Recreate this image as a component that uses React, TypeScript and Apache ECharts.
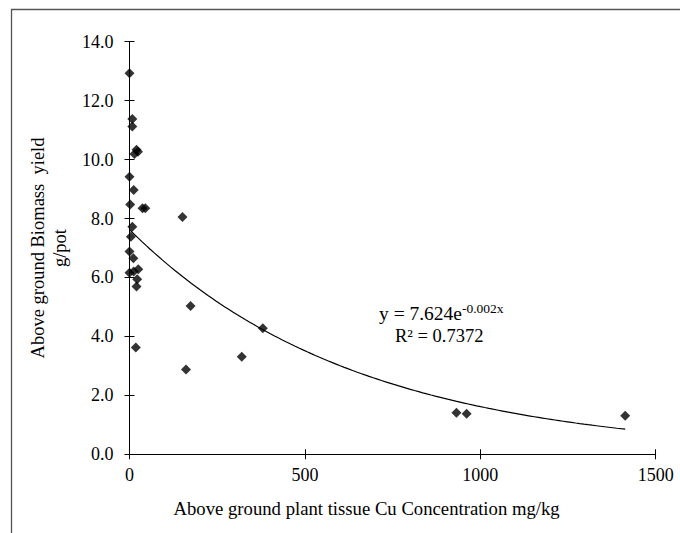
import React, { useEffect, useRef } from "react";
import * as echarts from "echarts";

// Cu concentration (mg/kg) and biomass yield (g/pot)
const cuConcentration = [
  0, 8, 8, 20, 14, 24, 0, 12, 2, 37, 45, 8, 4, 0, 11, 0, 25, 12, 22, 20, 18,
  151, 174, 380, 320, 161, 932, 961, 1413,
];
const biomassYield = [
  12.93, 11.38, 11.12, 10.33, 10.19, 10.27, 9.42, 8.97, 8.48, 8.35, 8.35, 7.72,
  7.38, 6.88, 6.65, 6.16, 6.28, 6.2, 5.94, 5.69, 3.62, 8.05, 5.03, 4.28, 3.31,
  2.88, 1.41, 1.38, 1.31,
];

const xTicks = [0, 500, 1000, 1500];
const yTicks = [0, 2, 4, 6, 8, 10, 12, 14];

// Trend line (exponential fit shown on the chart)
const TREND_A = 7.624;
const TREND_K = -0.00155;
const trendLabel = "y = 7.624e";
const trendExp = "-0.002x";
const r2Label = "R² = 0.7372";

const xTitle = "Above ground plant tissue Cu Concentration mg/kg";
const yTitle = "Above ground Biomass  yield\ng/pot";

const FONT = "'Liberation Serif', 'Times New Roman', serif";

export default function App() {
  const ref = useRef<HTMLDivElement>(null);

  useEffect(() => {
    if (!ref.current) return;
    const chart = echarts.init(ref.current, null, { renderer: "svg" });

    const points = cuConcentration.map((x, i) => [x, biomassYield[i]]);
    const xMin = Math.min(...cuConcentration);
    const xMax = Math.max(...cuConcentration);
    const trend: number[][] = [];
    const steps = 120;
    for (let i = 0; i <= steps; i++) {
      const x = xMin + ((xMax - xMin) * i) / steps;
      trend.push([x, TREND_A * Math.exp(TREND_K * x)]);
    }

    const xBase = {
      type: "value",
      min: xTicks[0],
      max: xTicks[xTicks.length - 1],
      interval: 500,
      splitLine: { show: false },
    };
    const yBase = {
      type: "value",
      min: yTicks[0],
      max: yTicks[yTicks.length - 1],
      interval: 2,
      splitLine: { show: false },
    };

    chart.setOption({
      animation: false,
      backgroundColor: "#ffffff",
      grid: { left: 129.5, right: 24.3, top: 41.7, bottom: 78.7 },
      xAxis: [
        {
          ...xBase,
          position: "bottom",
          axisLine: { show: true, lineStyle: { color: "#000", width: 1 } },
          axisTick: { show: true, inside: false, length: 5, lineStyle: { color: "#000" } },
          axisLabel: {
            show: true,
            margin: 12,
            color: "#000",
            fontFamily: FONT,
            fontSize: 18,
            formatter: (v: number) => String(v),
          },
          name: xTitle,
          nameLocation: "middle",
          nameGap: 45,
          nameTextStyle: {
            color: "#000",
            fontFamily: FONT,
            fontSize: 18.7,
            padding: [0, 52, 0, 0],
          },
        },
        {
          ...xBase,
          position: "bottom",
          axisLine: { show: false },
          axisTick: { show: true, inside: true, length: 5, lineStyle: { color: "#000" } },
          axisLabel: { show: false },
        },
      ],
      yAxis: [
        {
          ...yBase,
          position: "left",
          axisLine: { show: true, lineStyle: { color: "#000", width: 1 } },
          axisTick: { show: true, inside: false, length: 5, lineStyle: { color: "#000" } },
          axisLabel: {
            show: true,
            margin: 16,
            color: "#000",
            fontFamily: FONT,
            fontSize: 18,
            formatter: (v: number) => v.toFixed(1),
          },
          name: yTitle,
          nameLocation: "middle",
          nameRotate: 90,
          nameGap: 55,
          nameTextStyle: {
            color: "#000",
            fontFamily: FONT,
            fontSize: 18.5,
            lineHeight: 22,
          },
        },
        {
          ...yBase,
          position: "left",
          axisLine: { show: false },
          axisTick: { show: true, inside: true, length: 5, lineStyle: { color: "#000" } },
          axisLabel: { show: false },
        },
      ],
      series: [
        {
          type: "line",
          data: trend,
          showSymbol: false,
          symbol: "none",
          smooth: false,
          lineStyle: { color: "#000", width: 1.2 },
          z: 2,
        },
        {
          type: "scatter",
          data: points,
          symbol: "diamond",
          symbolSize: 10,
          itemStyle: { color: "#000" },
          z: 3,
        },
      ],
      graphic: [
        {
          type: "rect",
          shape: { x: 11.5, y: 9.5, width: 700, height: 600 },
          style: { fill: "none", stroke: "#555", lineWidth: 1.3 },
          silent: true,
        },
        {
          type: "text",
          left: 379,
          top: 303,
          style: {
            text: trendLabel,
            font: `19.5px ${FONT}`,
            fill: "#000",
          },
        },
        {
          type: "text",
          left: 462,
          top: 301,
          style: {
            text: trendExp,
            font: `13.5px ${FONT}`,
            fill: "#000",
          },
        },
        {
          type: "text",
          left: 395,
          top: 326,
          style: {
            text: r2Label,
            font: `18.5px ${FONT}`,
            fill: "#000",
          },
        },
      ],
    });

    return () => chart.dispose();
  }, []);

  return (
    <div
      ref={ref}
      style={{ position: "fixed", left: 0, top: 0, width: 680, height: 533 }}
    />
  );
}
